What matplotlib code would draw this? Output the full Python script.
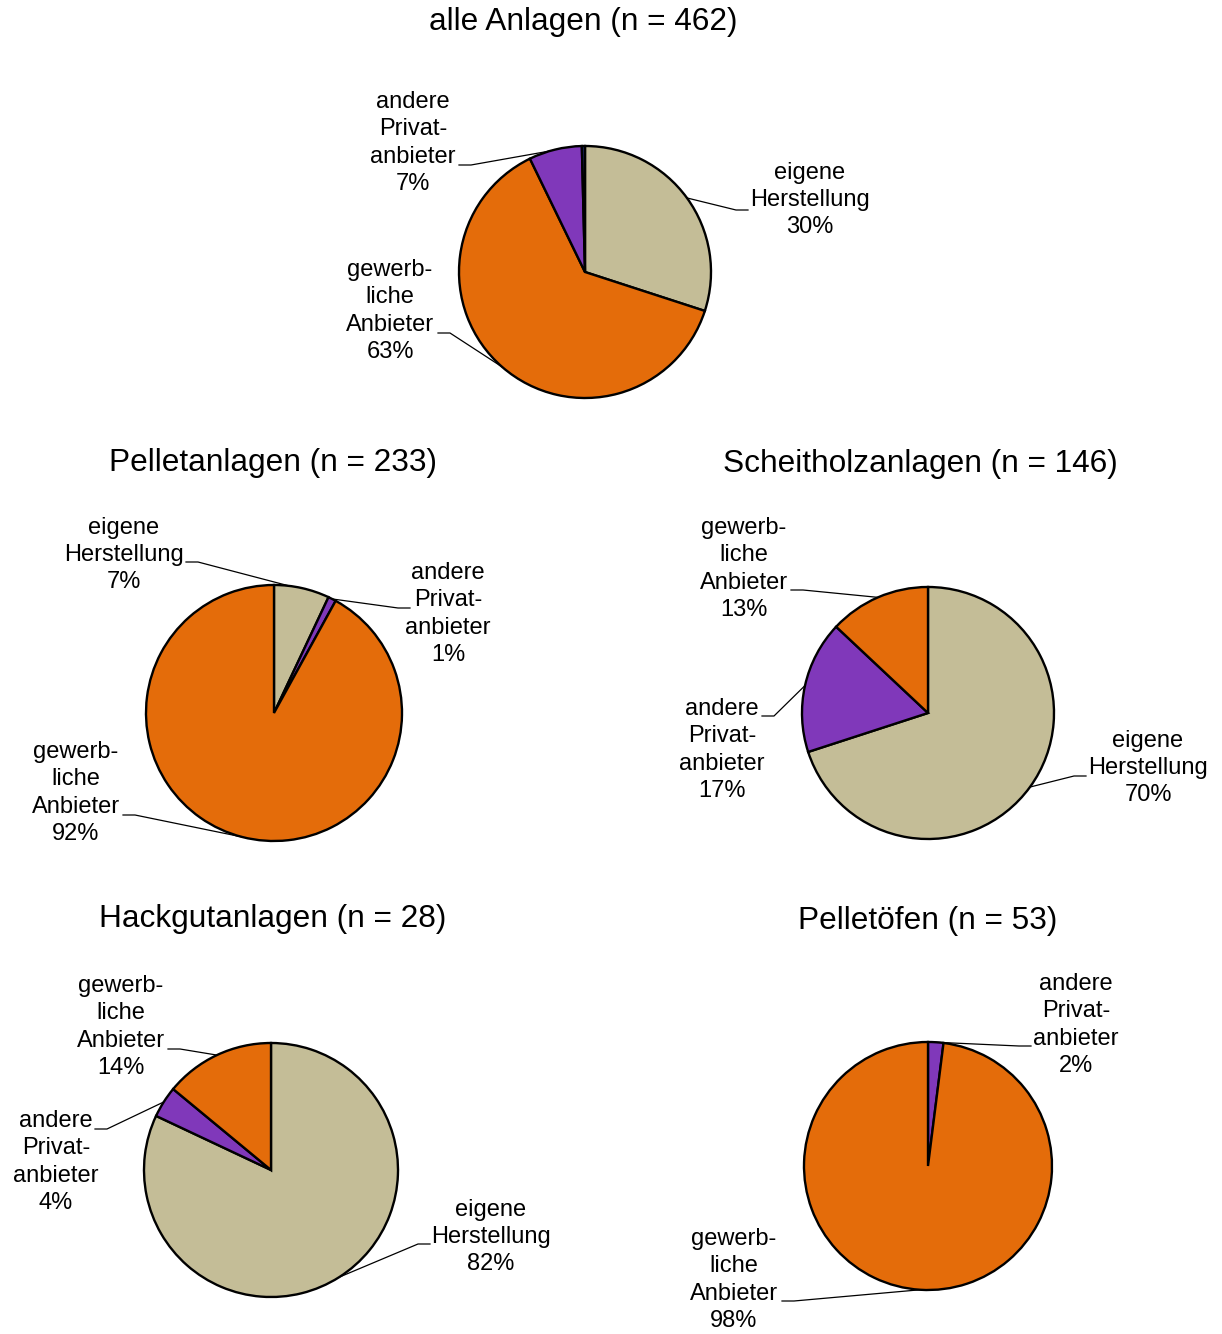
import matplotlib.pyplot as plt
import numpy as np

plt.rcParams['font.family'] = ['Liberation Sans', 'DejaVu Sans']

EIGENE = 'eigene\nHerstellung'
GEWERB = 'gewerb-\nliche\nAnbieter'
ANDERE = 'andere\nPrivat-\nanbieter'
REST = 'sonstige'

# shares in percent, clockwise from 12 o'clock
alle_cats = [EIGENE, GEWERB, ANDERE, REST]
alle_vals = [30, 62.8, 6.8, 0.4]

pellet_cats = [EIGENE, ANDERE, GEWERB]
pellet_vals = [7, 1, 92]

scheit_cats = [EIGENE, ANDERE, GEWERB]
scheit_vals = [70, 17, 13]

hack_cats = [EIGENE, ANDERE, GEWERB]
hack_vals = [82, 4, 14]

ofen_cats = [ANDERE, GEWERB]
ofen_vals = [2, 98]

colors = {EIGENE: '#C4BD97', GEWERB: '#E46C0A', ANDERE: '#8038BA', REST: '#1F2A6B'}

W, H = 1222, 1334
fig = plt.figure(figsize=(W / 100, H / 100), dpi=100)
ax = fig.add_axes([0, 0, 1, 1])


def py(y):
    return H - y


# layout in pixels: title pos, pie centre, radius, label placement (text centre, leader start, fraction)
charts = [
    dict(title='alle Anlagen (n = 462)', tpos=(583, 22), cats=alle_cats, vals=alle_vals,
         center=(585, 272), r=126,
         labels={EIGENE: ((810, 200), (748, 210), 0.5),
                 GEWERB: ((390, 311), (438, 333), 0.5),
                 ANDERE: ((413, 143), (459, 165), 0.9)}),
    dict(title='Pelletanlagen (n = 233)', tpos=(273, 463), cats=pellet_cats, vals=pellet_vals,
         center=(274, 713), r=128,
         labels={EIGENE: ((124, 555), (186, 562), 0.9),
                 ANDERE: ((448, 614), (410, 608), 0.5),
                 GEWERB: ((76, 793), (123, 815), 0.5)}),
    dict(title='Scheitholzanlagen (n = 146)', tpos=(920, 464), cats=scheit_cats, vals=scheit_vals,
         center=(928, 713), r=126,
         labels={GEWERB: ((744, 569), (791, 590), 0.5),
                 ANDERE: ((722, 750), (762, 716), 0.5),
                 EIGENE: ((1148, 768), (1086, 776), 0.5)}),
    dict(title='Hackgutanlagen (n = 28)', tpos=(273, 919), cats=hack_cats, vals=hack_vals,
         center=(271, 1170), r=127,
         labels={GEWERB: ((121, 1027), (168, 1049), 0.5),
                 ANDERE: ((56, 1162), (95, 1129), 0.5),
                 EIGENE: ((491, 1237), (430, 1244), 0.5)}),
    dict(title='Pelletöfen (n = 53)', tpos=(928, 921), cats=ofen_cats, vals=ofen_vals,
         center=(928, 1166), r=124,
         labels={ANDERE: ((1076, 1025), (1031, 1046), 0.5),
                 GEWERB: ((734, 1280), (782, 1301), 0.5)}),
]

for ch in charts:
    cx, cy = ch['center']
    wedges, _ = ax.pie(ch['vals'], colors=[colors[c] for c in ch['cats']],
                       startangle=90, counterclock=False,
                       center=(cx, py(cy)), radius=ch['r'],
                       wedgeprops=dict(edgecolor='black', linewidth=1.7))
    ax.text(ch['tpos'][0], py(ch['tpos'][1]), ch['title'], ha='center', va='center',
            fontsize=22.8)
    for w, cat, val in zip(wedges, ch['cats'], ch['vals']):
        if cat not in ch['labels']:
            continue
        (tx, ty), (sx, sy), frac = ch['labels'][cat]
        ax.text(tx, py(ty), f'{cat}\n{round(val)}%', ha='center', va='center',
                multialignment='center', fontsize=17, linespacing=1.3)
        ang = np.radians(w.theta2 - frac * (w.theta2 - w.theta1))
        ex = cx + ch['r'] * np.cos(ang)
        ey = py(cy) + ch['r'] * np.sin(ang)
        stub = 12 if sx < cx else -12
        ax.plot([sx, sx + stub, ex], [py(sy), py(sy), ey], color='black', lw=0.9,
                zorder=0.5)

ax.set_xlim(0, W)
ax.set_ylim(0, H)
ax.set_aspect('equal')
ax.axis('off')

fig.savefig('out.png', dpi=100)
